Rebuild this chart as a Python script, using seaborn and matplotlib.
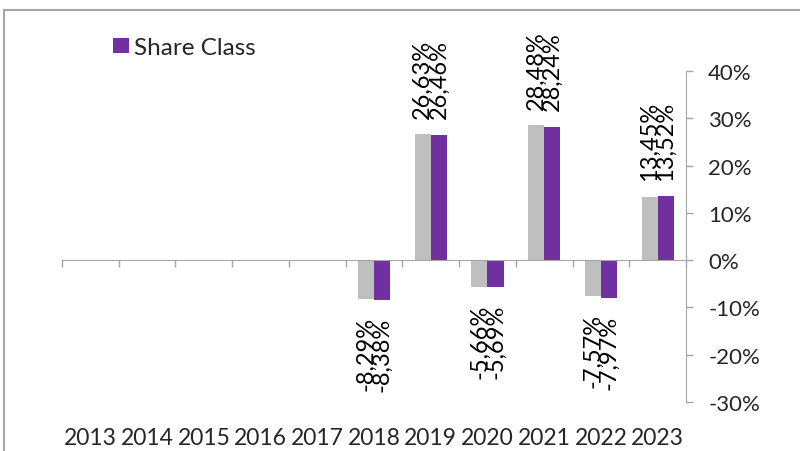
import numpy as np
import pandas as pd
import matplotlib
matplotlib.use("Agg")
import matplotlib.pyplot as plt
import seaborn as sns
from matplotlib.patches import Rectangle

years = ["2013", "2014", "2015", "2016", "2017", "2018", "2019", "2020", "2021", "2022", "2023"]
comparison = [np.nan, np.nan, np.nan, np.nan, np.nan, -8.29, 26.63, -5.66, 28.48, -7.57, 13.45]
share_class = [np.nan, np.nan, np.nan, np.nan, np.nan, -8.38, 26.46, -5.69, 28.24, -7.97, 13.52]
series_names = ["Comparison", "Share Class"]
colors = ["#BFBFBF", "#7030A0"]
y_ticks = [-30, -20, -10, 0, 10, 20, 30, 40]

df = pd.DataFrame({
    "year": years * 2,
    "value": comparison + share_class,
    "series": [series_names[0]] * len(years) + [series_names[1]] * len(years),
})

sns.set_style("white")
plt.rcParams["font.family"] = ["Lato", "DejaVu Sans"]

fig = plt.figure(figsize=(8, 4.52), dpi=100)
ax = fig.add_axes([62 / 800, 1 - 403 / 452, 624 / 800, 331 / 452])

sns.barplot(data=df, x="year", y="value", hue="series", order=years,
            hue_order=series_names, palette=colors, width=0.566,
            linewidth=0, saturation=1, ax=ax)

def pct(v):
    return f"{v:.2f}%".replace(".", ",")

for c in ax.containers:
    ax.bar_label(c, fmt=pct, rotation=90, padding=12, fontsize=17, color="black")

ax.set_xlim(-0.5, len(years) - 0.5)
ax.set_ylim(-30, 40)
ax.set_xlabel("")
ax.set_ylabel("")

# y axis on the right
ax.yaxis.tick_right()
ax.set_yticks(y_ticks)
ax.set_yticklabels([f"{t}%" for t in y_ticks], fontsize=16)
ax.tick_params(axis="y", direction="out", length=5, width=1, color="#A6A6A6",
               pad=11, right=True, left=False)

# x axis through zero, labels at bottom
ax.spines["bottom"].set_position(("data", 0))
ax.spines["bottom"].set_color("#A6A6A6")
ax.spines["right"].set_color("#A6A6A6")
ax.spines["left"].set_visible(False)
ax.spines["top"].set_visible(False)
ax.set_xticks(np.arange(-0.5, len(years)), minor=True)
ax.tick_params(axis="x", which="minor", direction="out", length=5, width=1,
               color="#A6A6A6", bottom=True)
ax.tick_params(axis="x", which="major", length=0, labelsize=16.5, pad=120)

handles, labels = ax.get_legend_handles_labels()
ax.get_legend().remove()
fig.legend([handles[1]], [labels[1]], loc="upper left",
           bbox_to_anchor=(101 / 800, 1 - 26 / 452), frameon=False,
           fontsize=17.5, handlelength=0.66, handleheight=0.62,
           handletextpad=0.2, borderpad=0)

fig.patches.append(Rectangle((4 / 800, -0.1), 1.2, 1.1 - 11 / 452,
                             transform=fig.transFigure, fill=False,
                             edgecolor="#A6A6A6", linewidth=1.5))

fig.savefig("out.png", dpi=100)
